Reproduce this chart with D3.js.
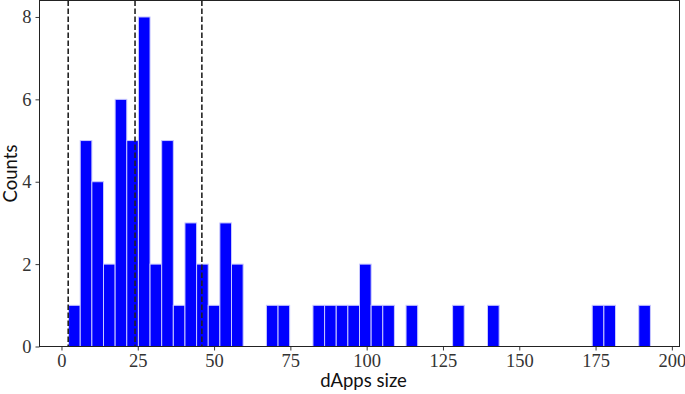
<!DOCTYPE html>
<html>
<head>
<meta charset="utf-8">
<script src="https://cdn.jsdelivr.net/npm/d3@7"></script>
<style>
  html, body { margin: 0; padding: 0; background: #fff; }
  svg { display: block; }
</style>
</head>
<body>
<svg id="chart" width="685" height="394"></svg>
<script>
// ---- data ----
const dataMin = 2.33;
const dataMax = 192.97;
const binCounts = [
  1, 5, 4, 2, 6, 5, 8, 2, 5, 1,
  3, 2, 1, 3, 2, 0, 0, 1, 1, 0,
  0, 1, 1, 1, 1, 2, 1, 1, 0, 1,
  0, 0, 0, 1, 0, 0, 1, 0, 0, 0,
  0, 0, 0, 0, 0, 1, 1, 0, 0, 1
];
const refLines = [2.2, 24.1, 46.0];
const xTicks = [0, 25, 50, 75, 100, 125, 150, 175, 200];
const yTicks = [0, 2, 4, 6, 8];
const xLabel = "dApps size";
const yLabel = "Counts";

// ---- layout ----
const W = 685, H = 394;
const L = 39.5, R = 679.5, T = 0.5, B = 346.5;

const span = dataMax - dataMin;
const x = d3.scaleLinear()
  .domain([dataMin - 0.05 * span, dataMax + 0.05 * span])
  .range([L, R]);
const y = d3.scaleLinear().domain([0, 8.4]).range([B, T]);

const nb = binCounts.length;
const bw = span / nb;
const bins = binCounts.map((c, i) => ({ x0: dataMin + i * bw, x1: dataMin + (i + 1) * bw, c }));

const svg = d3.select("#chart");

// bars
svg.append("g").selectAll("rect")
  .data(bins.filter(d => d.c > 0))
  .join("rect")
  .attr("x", d => x(d.x0))
  .attr("y", d => y(d.c))
  .attr("width", d => x(d.x1) - x(d.x0))
  .attr("height", d => y(0) - y(d.c))
  .attr("fill", "#0000ff")
  .attr("stroke", "#c8c8ff")
  .attr("stroke-width", 1);

// reference dashed lines
svg.append("g").selectAll("line")
  .data(refLines)
  .join("line")
  .attr("x1", d => x(d)).attr("x2", d => x(d))
  .attr("y1", T).attr("y2", B)
  .attr("stroke", "#222")
  .attr("stroke-width", 1.6)
  .attr("stroke-dasharray", "5.5,2.5");

// axes
const serif = "'Liberation Serif', 'DejaVu Serif', serif";
const xAxis = svg.append("g")
  .attr("transform", `translate(0,${B})`)
  .call(d3.axisBottom(x).tickValues(xTicks).tickFormat(d3.format("d")).tickSize(4).tickPadding(3).tickSizeOuter(0));
const yAxis = svg.append("g")
  .attr("transform", `translate(${L},0)`)
  .call(d3.axisLeft(y).tickValues(yTicks).tickFormat(d3.format("d")).tickSize(4).tickPadding(4).tickSizeOuter(0));

[xAxis, yAxis].forEach(g => {
  g.select(".domain").remove();
  g.selectAll(".tick line").attr("stroke", "#222").attr("stroke-width", 0.9);
  g.selectAll(".tick text")
    .attr("fill", "#333")
    .style("font-family", serif)
    .style("font-size", "18.5px");
});

// frame
svg.append("rect")
  .attr("x", L).attr("y", T)
  .attr("width", R - L).attr("height", B - T)
  .attr("fill", "none")
  .attr("stroke", "#222")
  .attr("stroke-width", 1);

// axis labels
const sans = "Lato, 'Open Sans', sans-serif";
svg.append("text")
  .attr("x", (L + R) / 2 + 4)
  .attr("y", 387)
  .attr("text-anchor", "middle")
  .style("font-family", sans)
  .style("font-size", "18.5px")
  .attr("fill", "#111")
  .text(xLabel);

svg.append("text")
  .attr("transform", `translate(17,${(T + B) / 2}) rotate(-90)`)
  .attr("text-anchor", "middle")
  .style("font-family", sans)
  .style("font-size", "18.5px")
  .attr("fill", "#111")
  .text(yLabel);
</script>
</body>
</html>
